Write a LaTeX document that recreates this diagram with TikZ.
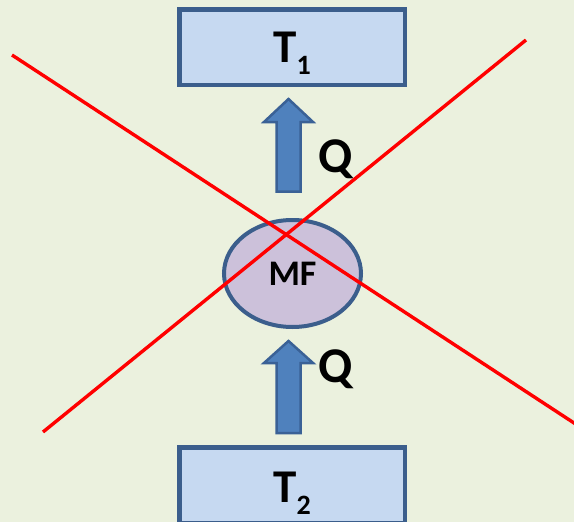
\documentclass[tikz,border=0pt]{standalone}
\usepackage{fontspec}
\setmainfont{Carlito}
\usetikzlibrary{shapes.geometric}
\definecolor{bgc}{HTML}{EBF1DE}
\definecolor{boxfill}{HTML}{C6D9F1}
\definecolor{edgec}{HTML}{3B5E8C}
\definecolor{ellfill}{HTML}{CCC1DA}
\definecolor{arrfill}{HTML}{4F81BD}
\definecolor{arredge}{HTML}{3A6196}
\tikzset{
  tbox/.style={draw=edgec, fill=boxfill, line width=4.5pt, rectangle, minimum width=225.5pt, minimum height=75.5pt, inner sep=0pt},
  mfell/.style={draw=edgec, fill=ellfill, line width=4pt, ellipse, minimum width=137pt, minimum height=107pt, inner sep=0pt, font=\fontsize{36}{36}\selectfont\bfseries},
  lab/.style={anchor=base, inner sep=0pt, font=\fontsize{47}{47}\selectfont\bfseries},
  qlab/.style={anchor=base west, inner sep=0pt, font=\fontsize{50}{50}\selectfont\bfseries},
  blockarrow/.style={draw=arredge, fill=arrfill, line width=2.5pt, line join=miter},
  crossline/.style={draw=red, line width=3.4pt}
}
\begin{document}
\begin{tikzpicture}[x=1pt, y=-1pt]
\useasboundingbox (0,0) rectangle (574,522);
\clip (0,0) rectangle (574,522);
\fill[bgc] (0,0) rectangle (574,522);
% boxes
\node[tbox] (t1) at (292,47) {};
\node[tbox] (t2) at (292,485) {};
\node[lab] (t1lab) at (292,63) {T\raisebox{-12pt}{\fontsize{28}{28}\selectfont\bfseries 1}};
\node[lab] (t2lab) at (292,502) {T\raisebox{-12pt}{\fontsize{28}{28}\selectfont\bfseries 2}};
% ellipse
\node[mfell] (mf) at (292.5,273.5) {MF};
% block arrows
\coordinate (a1tip) at (288.5,99);
\coordinate (a2tip) at (288.5,341);
\draw[blockarrow] (a1tip) -- ++(24.5,23) -- ++(-12.5,0) -- ++(0,69.5) -- ++(-24,0) -- ++(0,-69.5) -- ++(-12.5,0) -- cycle;
\draw[blockarrow] (a2tip) -- ++(24.5,22) -- ++(-12.5,0) -- ++(0,70) -- ++(-24,0) -- ++(0,-70) -- ++(-12.5,0) -- cycle;
\node[qlab] (q1) at (318,172) {Q};
\node[qlab] (q2) at (318,382) {Q};
% red cross
\coordinate (r1a) at (12,55);
\coordinate (r1b) at (600,440);
\coordinate (r2a) at (526,40);
\coordinate (r2b) at (43,432);
\draw[crossline] (r1a) -- (r1b);
\draw[crossline] (r2a) -- (r2b);
\end{tikzpicture}
\end{document}
